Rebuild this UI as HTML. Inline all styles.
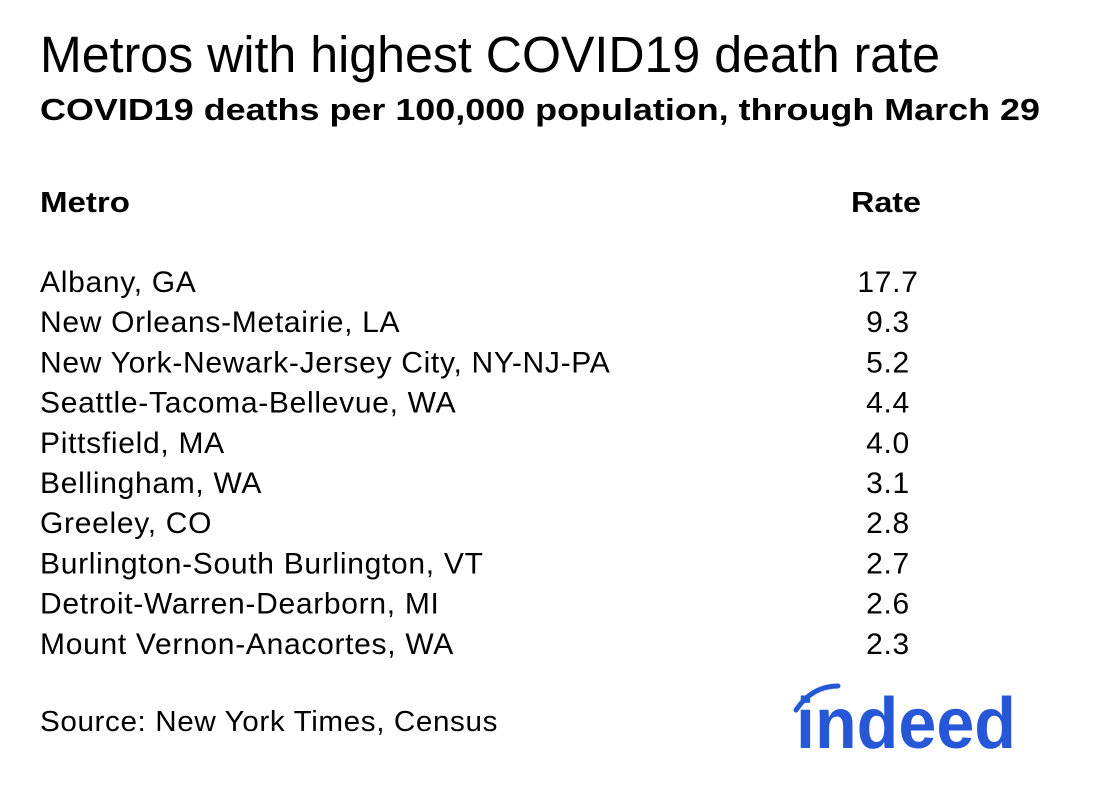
<!DOCTYPE html>
<html><head><meta charset="utf-8"><style>
html,body{margin:0;padding:0;background:#fff;}
svg{display:block;font-family:"Liberation Sans",Arial,sans-serif;}
</style></head><body>
<svg id="chart" width="1094" height="786" viewBox="0 0 1094 786">
<rect width="1094" height="786" fill="#fff"/>
<text x="40" y="72" font-size="51" fill="#000" textLength="900" lengthAdjust="spacingAndGlyphs">Metros with highest COVID19 death rate</text>
<text x="40" y="120" font-size="31" font-weight="bold" fill="#000" textLength="1000" lengthAdjust="spacingAndGlyphs">COVID19 deaths per 100,000 population, through March 29</text>
<text x="40" y="212" font-size="29" font-weight="bold" textLength="90" lengthAdjust="spacingAndGlyphs">Metro</text>
<text x="851" y="212" font-size="29" font-weight="bold" textLength="70" lengthAdjust="spacingAndGlyphs">Rate</text>
<g id="rows"></g>
<text x="40" y="731" font-size="29" letter-spacing="0.6" textLength="458" lengthAdjust="spacingAndGlyphs">Source: New York Times, Census</text>
<g>
<path d="M796,710 Q812,686 838,686" fill="none" stroke="#2557d6" stroke-width="5" stroke-linecap="round"/>
<text x="796" y="748" font-size="72" font-weight="bold" fill="#2557d6" textLength="220" lengthAdjust="spacingAndGlyphs">indeed</text>
</g>
</svg>
<script>
const metros = ["Albany, GA","New Orleans-Metairie, LA","New York-Newark-Jersey City, NY-NJ-PA","Seattle-Tacoma-Bellevue, WA","Pittsfield, MA","Bellingham, WA","Greeley, CO","Burlington-South Burlington, VT","Detroit-Warren-Dearborn, MI","Mount Vernon-Anacortes, WA"];
const rates = [17.7, 9.3, 5.2, 4.4, 4.0, 3.1, 2.8, 2.7, 2.6, 2.3];
const NS = "http://www.w3.org/2000/svg";
const g = document.getElementById("rows");
const rowY = i => 292 + i * 40.2;
metros.forEach((m, i) => {
  const t = document.createElementNS(NS, "text");
  t.setAttribute("x", 40);
  t.setAttribute("y", rowY(i));
  t.setAttribute("font-size", 30);
  t.setAttribute("letter-spacing", 0.7);
  t.textContent = m;
  
  
  g.appendChild(t);
  const v = document.createElementNS(NS, "text");
  v.setAttribute("x", 888);
  v.setAttribute("y", rowY(i));
  v.setAttribute("font-size", 30);
  v.setAttribute("letter-spacing", 0.7);
  v.setAttribute("text-anchor", "middle");
  v.textContent = rates[i].toFixed(1);
  
  
  g.appendChild(v);
});
</script>
</body></html>
